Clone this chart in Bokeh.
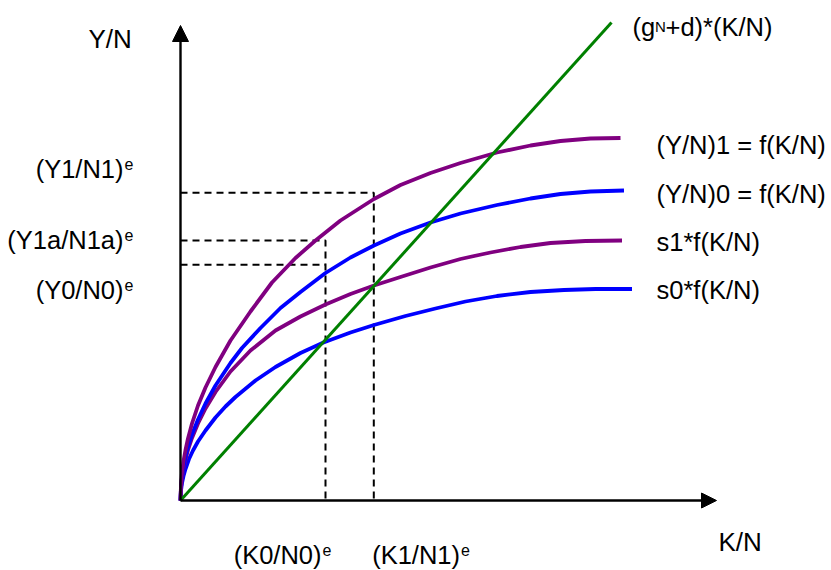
from bokeh.plotting import figure
from bokeh.models import Range1d, Label, Arrow, NormalHead
from bokeh.embed import file_html
from bokeh.resources import INLINE

# ---- data (abstract diagram units) ----
# (Y/N)1 = f(K/N)  (purple, upper)
k_f1 = [0, 0.01, 0.03, 0.06, 0.1, 0.15, 0.23, 0.35, 0.5, 0.7, 1.0, 1.4, 1.83, 2.3, 2.7, 3.2,
        3.87, 4.4, 5.0, 5.6, 6.33, 7.0, 7.6, 8.2, 8.8]
y_f1 = [0, 0.32, 0.56, 0.79, 1.01, 1.24, 1.54, 1.90, 2.26, 2.67, 3.20, 3.78, 4.36, 4.85, 5.20, 5.60,
        6.03, 6.31, 6.55, 6.75, 6.96, 7.10, 7.19, 7.24, 7.25]
# (Y/N)0 = f(K/N)  (blue, upper)
k_f0 = [0, 0.01, 0.03, 0.06, 0.1, 0.15, 0.23, 0.35, 0.5, 0.7, 1.0, 1.23, 1.6, 2.0, 2.4, 2.9,
        3.4, 3.87, 4.4, 5.0, 5.6, 6.33, 7.0, 7.6, 8.2, 8.87]
y_f0 = [0, 0.27, 0.48, 0.67, 0.87, 1.07, 1.32, 1.62, 1.94, 2.30, 2.75, 3.05, 3.45, 3.85, 4.17, 4.55,
        4.86, 5.10, 5.34, 5.56, 5.74, 5.91, 6.04, 6.13, 6.18, 6.20]
# s1*f(K/N)  (purple, lower)
k_s1 = [0, 0.01, 0.03, 0.06, 0.1, 0.15, 0.23, 0.35, 0.5, 0.7, 1.0, 1.4, 1.9, 2.4, 2.9, 3.4,
        3.87, 4.4, 5.0, 5.6, 6.2, 6.8, 7.4, 8.1, 8.83]
y_s1 = [0, 0.26, 0.45, 0.64, 0.82, 1.01, 1.25, 1.54, 1.84, 2.17, 2.58, 3.00, 3.40, 3.68, 3.92, 4.13,
        4.30, 4.47, 4.66, 4.83, 4.96, 5.07, 5.15, 5.19, 5.20]
# s0*f(K/N)  (blue, lower)
k_s0 = [0, 0.01, 0.03, 0.06, 0.1, 0.17, 0.25, 0.35, 0.5, 0.7, 0.9, 1.1, 1.5, 1.9, 2.4, 2.86,
        3.4, 3.87, 4.5, 5.1, 5.7, 6.33, 7.0, 7.67, 8.3, 9.03]
y_s0 = [0, 0.20, 0.35, 0.49, 0.63, 0.83, 1.00, 1.18, 1.40, 1.66, 1.88, 2.07, 2.40, 2.67, 2.95, 3.16,
        3.36, 3.51, 3.69, 3.84, 3.98, 4.09, 4.17, 4.21, 4.23, 4.23]
# (gN+d)*(K/N)  (green line)
k_dep = [0, 8.62]
y_dep = [0, 9.56]

# equilibrium levels
K0, K1 = 2.90, 3.866
Y1, Y1a, Y0 = 6.154, 5.20, 4.714

# axis extents
axis_k = [0, 10.72]
axis_y = [0, 9.50]

FONT = "Liberation Sans"
MAIN = "25.5px"
TITLE = "26px"
SUP = "16px"
DY = 0.18  # vertical compensation for label placement

p = figure(width=831, height=570, x_range=Range1d(-3.6, 13.02), y_range=Range1d(-1.4, 10.0),
           min_border=0, toolbar_location=None, output_backend="svg",
           x_axis_type=None, y_axis_type=None)
p.grid.visible = False
p.outline_line_color = None
p.background_fill_color = "white"
p.border_fill_color = "white"

# axes with arrows
p.add_layout(Arrow(end=NormalHead(size=15, fill_color="black", line_color="black", line_width=1),
                   x_start=axis_k[0], y_start=0, x_end=axis_k[1], y_end=0,
                   line_width=2.6, line_color="black"))
p.add_layout(Arrow(end=NormalHead(size=16, fill_color="black", line_color="black", line_width=1),
                   x_start=0, y_start=axis_y[0], x_end=0, y_end=axis_y[1],
                   line_width=2.4, line_color="black"))

# dashed guides
dash = "7 5"
p.line([0, K1, K1], [Y1, Y1, 0], line_dash=dash, line_width=2, line_color="black")
p.line([0, K0, K0], [Y1a, Y1a, 0], line_dash=dash, line_width=2, line_color="black")
p.line([0, K0], [Y0, Y0], line_dash=dash, line_width=2, line_color="black")

# curves
PURPLE, BLUE, GREEN = "#800080", "#0000FF", "#008000"
for k, y, c in [(k_s0, y_s0, BLUE), (k_s1, y_s1, PURPLE), (k_f0, y_f0, BLUE), (k_f1, y_f1, PURPLE)]:
    p.line(k, y, line_color=c, line_width=3.8, line_join="round", line_cap="butt")
p.line(k_dep, y_dep, line_color=GREEN, line_width=3, line_cap="butt")


def lab(x, y, t, size=MAIN, align="left"):
    p.add_layout(Label(x=x, y=y + DY, text=t, text_font=FONT, text_font_size=size,
                       text_align=align, text_baseline="alphabetic", text_color="black"))


# axis titles
lab(-1.84, 9.06, "Y/N", size=TITLE)
lab(10.76, -1.00, "K/N", size=TITLE)

# right-hand curve labels
lab(9.04, 9.30, "(g")
lab(9.49, 9.30, "N", size="15px")
lab(9.70, 9.30, "+d)*(K/N)")
lab(9.52, 6.94, "(Y/N)1 = f(K/N)")
lab(9.52, 5.96, "(Y/N)0 = f(K/N)")
lab(9.52, 5.00, "s1*f(K/N)")
lab(9.52, 4.04, "s0*f(K/N)")

# left equilibrium labels
for yv, t in [(6.46, "(Y1/N1)"), (5.04, "(Y1a/N1a)"), (4.04, "(Y0/N0)")]:
    lab(-1.14, yv, t, align="right")
    lab(-1.12, yv + 0.10, "e", size=SUP)

# bottom equilibrium labels
for xv, t in [(2.82, "(K0/N0)"), (5.59, "(K1/N1)")]:
    lab(xv, -1.26, t, align="right")
    lab(xv + 0.02, -1.16, "e", size=SUP)

open("out.html", "w").write(file_html(p, INLINE))
